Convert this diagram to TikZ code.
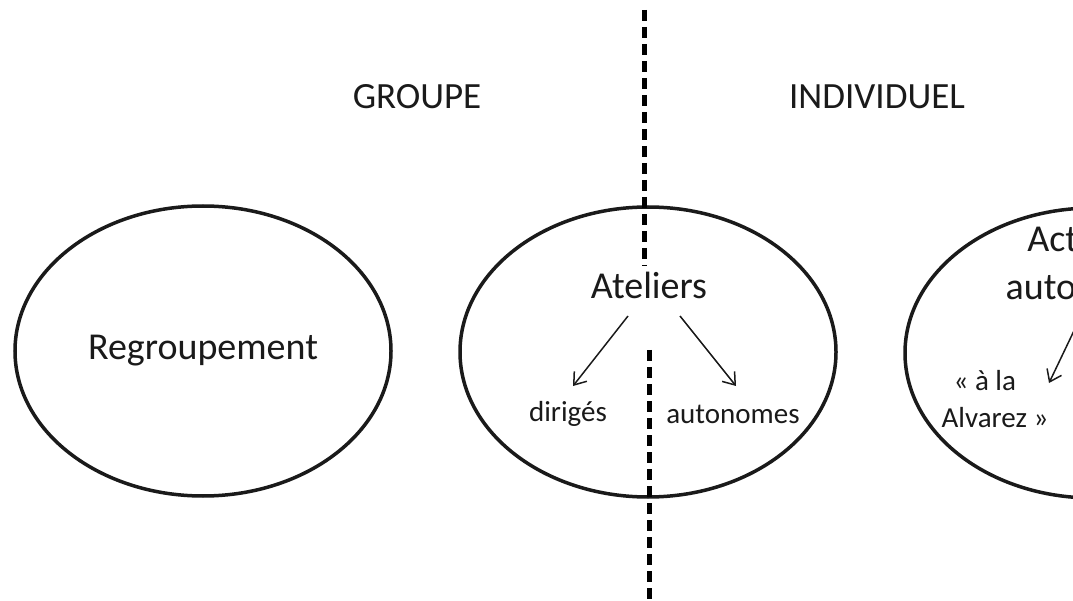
\documentclass[tikz,border=0pt]{standalone}
\usepackage{fontspec}
\setmainfont{Carlito}
\usepackage{tikz}
\usetikzlibrary{arrows.meta,positioning,shapes.geometric}
\definecolor{inkgray}{HTML}{1A1A1A}

\begin{document}
\begin{tikzpicture}[
 x=1pt,y=-1pt,
 zone/.style={draw=inkgray,ellipse,line width=3.5pt,minimum width=376pt,minimum height=290pt,inner sep=0pt},
 big/.style={text=inkgray,font=\fontsize{38}{42}\selectfont,align=center,inner sep=0pt},
 small/.style={text=inkgray,font=\fontsize{29}{34}\selectfont,align=center,inner sep=0pt},
 head/.style={text=inkgray,font=\fontsize{37}{42}\selectfont,inner sep=0pt},
 border/.style={draw=black,line width=5pt,dash pattern=on 11pt off 6pt},
 branch/.style={draw=inkgray,line width=1.5pt,-{Straight Barb[length=11pt,width=16pt,line width=1.5pt]}}
]
\useasboundingbox (0,0) rectangle (1073,601);
\clip (0,0) rectangle (1073,601);
\fill[white] (0,0) rectangle (1073,601);
% titres
\node[head] (groupe) at (417,97) {GROUPE};
\node[head] (indiv) at (877,97) {INDIVIDUEL};
% les trois zones
\node[zone] (regr) at (203,351) {};
\node[zone] (atel) at (648,352) {};
\node[zone] (activ) at (1093,353) {};
\node[big] (regrtxt) at (regr) {Regroupement};
\node[big] (ateltxt) at (649,285) {Ateliers};
\node[small] (diriges) at (568,414) {dirigés};
\node[small] (autonomes) at (733,414) {autonomes};
\node[big] (activtxt) at (1093,263) {Activités\\[6pt]autonomes};
\node[small,align=left] (alvarez) at (995,399) {\hspace*{12pt}« à la\\[3pt]Alvarez »};
% fleches
\coordinate (a1) at (628,316);
\coordinate (a2) at (573,386);
\coordinate (b1) at (680,316);
\coordinate (b2) at (736,386);
\coordinate (c1) at (1082,314);
\coordinate (c2) at (1049,383);
\draw[branch] (a1) -- (a2);
\draw[branch] (b1) -- (b2);
\draw[branch] (c1) -- (c2);
% separation groupe / individuel
\coordinate (t1) at (644,10);
\coordinate (t2) at (644,266);
\coordinate (u1) at (649,350);
\coordinate (u2) at (649,605);
\draw[border] (t1) -- (t2);
\draw[border] (u1) -- (u2);
\end{tikzpicture}
\end{document}
